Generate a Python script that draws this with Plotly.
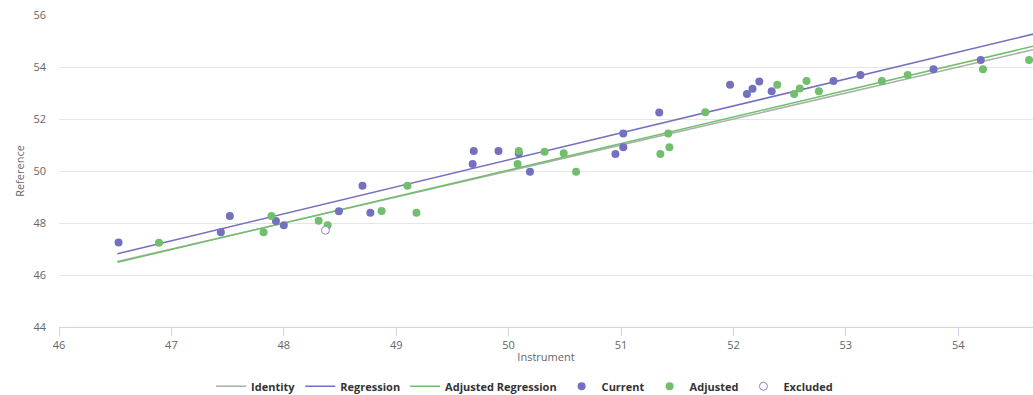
import plotly.graph_objects as go

# ---- data ----
current_x = [46.53, 47.44, 47.52, 47.93, 48.00, 48.49, 48.70, 48.77, 49.68, 50.19,
             49.69, 49.91, 50.09, 50.95, 51.02, 51.02, 51.34, 51.97, 52.12, 52.17,
             52.23, 52.34, 52.89, 53.13, 53.78, 54.20]
current_y = [47.25, 47.64, 48.27, 48.08, 47.91, 48.45, 49.43, 48.39, 50.27, 49.97,
             50.77, 50.77, 50.68, 50.65, 51.44, 50.91, 52.25, 53.32, 52.96, 53.16,
             53.44, 53.07, 53.46, 53.69, 53.91, 54.27]

adjusted_x = [46.89, 47.82, 47.89, 48.31, 48.39, 48.87, 49.10, 49.18, 50.08, 50.60,
              50.09, 50.32, 50.49, 51.35, 51.42, 51.43, 51.75, 52.39, 52.54, 52.59,
              52.65, 52.76, 53.32, 53.55, 54.22, 54.63]
adjusted_y = [47.24, 47.64, 48.27, 48.09, 47.91, 48.46, 49.43, 48.39, 50.27, 49.97,
              50.77, 50.74, 50.68, 50.65, 51.44, 50.91, 52.26, 53.32, 52.96, 53.17,
              53.46, 53.07, 53.46, 53.69, 53.91, 54.27]

excluded_x = [48.37]
excluded_y = [47.72]

line_x = [46.52, 54.67]
identity_y = [46.52, 54.67]
regression_y = [46.82, 55.27]
adjusted_regression_y = [46.49, 54.80]

x_ticks = [46, 47, 48, 49, 50, 51, 52, 53, 54]
y_ticks = [44, 46, 48, 50, 52, 54, 56]

BLUE = "#7470c0"
GREEN = "#71bf6d"
GREY = "#a8b0a8"

fig = go.Figure()
fig.add_trace(go.Scatter(x=line_x, y=identity_y, mode="lines", name="Identity",
                         line=dict(color=GREY, width=1.5)))
fig.add_trace(go.Scatter(x=line_x, y=regression_y, mode="lines", name="Regression",
                         line=dict(color=BLUE, width=1.5)))
fig.add_trace(go.Scatter(x=line_x, y=adjusted_regression_y, mode="lines",
                         name="Adjusted Regression",
                         line=dict(color=GREEN, width=1.5)))
fig.add_trace(go.Scatter(x=current_x, y=current_y, mode="markers", name="Current",
                         marker=dict(color=BLUE, size=8, line=dict(width=0))))
fig.add_trace(go.Scatter(x=adjusted_x, y=adjusted_y, mode="markers", name="Adjusted",
                         marker=dict(color=GREEN, size=8, line=dict(width=0))))
fig.add_trace(go.Scatter(x=excluded_x, y=excluded_y, mode="markers", name="Excluded",
                         marker=dict(color="white", size=8,
                                     line=dict(color="#8884c8", width=1))))

fig.update_layout(
    width=1033, height=395,
    margin=dict(l=59, r=0, t=15, b=68, autoexpand=False),
    paper_bgcolor="white", plot_bgcolor="white",
    font=dict(family="Open Sans, Arial, sans-serif", size=11, color="#666666"),
    showlegend=True,
    legend=dict(orientation="h", x=0.478, xanchor="center",
                yref="paper", y=-0.19, yanchor="middle",
                font=dict(size=11, color="#333333", family="Open Sans, Arial, sans-serif",
                          weight="bold"),
                itemwidth=30, tracegroupgap=0),
    xaxis=dict(range=[46, 54.665], tickvals=x_ticks, showgrid=False, zeroline=False,
               showline=True, linecolor="#ccd6eb", linewidth=1,
               ticks="outside", ticklen=8, tickcolor="#ccd6eb",
               title=dict(text="Instrument", font=dict(size=11, color="#666666"),
                          standoff=2)),
    yaxis=dict(range=[44, 56], tickvals=y_ticks, showgrid=True, gridcolor="#e6e6e6",
               gridwidth=1, zeroline=False, showline=False, ticks="",
               ticklabelstandoff=12,
               title=dict(text="Reference", font=dict(size=11, color="#666666"),
                          standoff=6)),
)

fig.write_html("out.html")
